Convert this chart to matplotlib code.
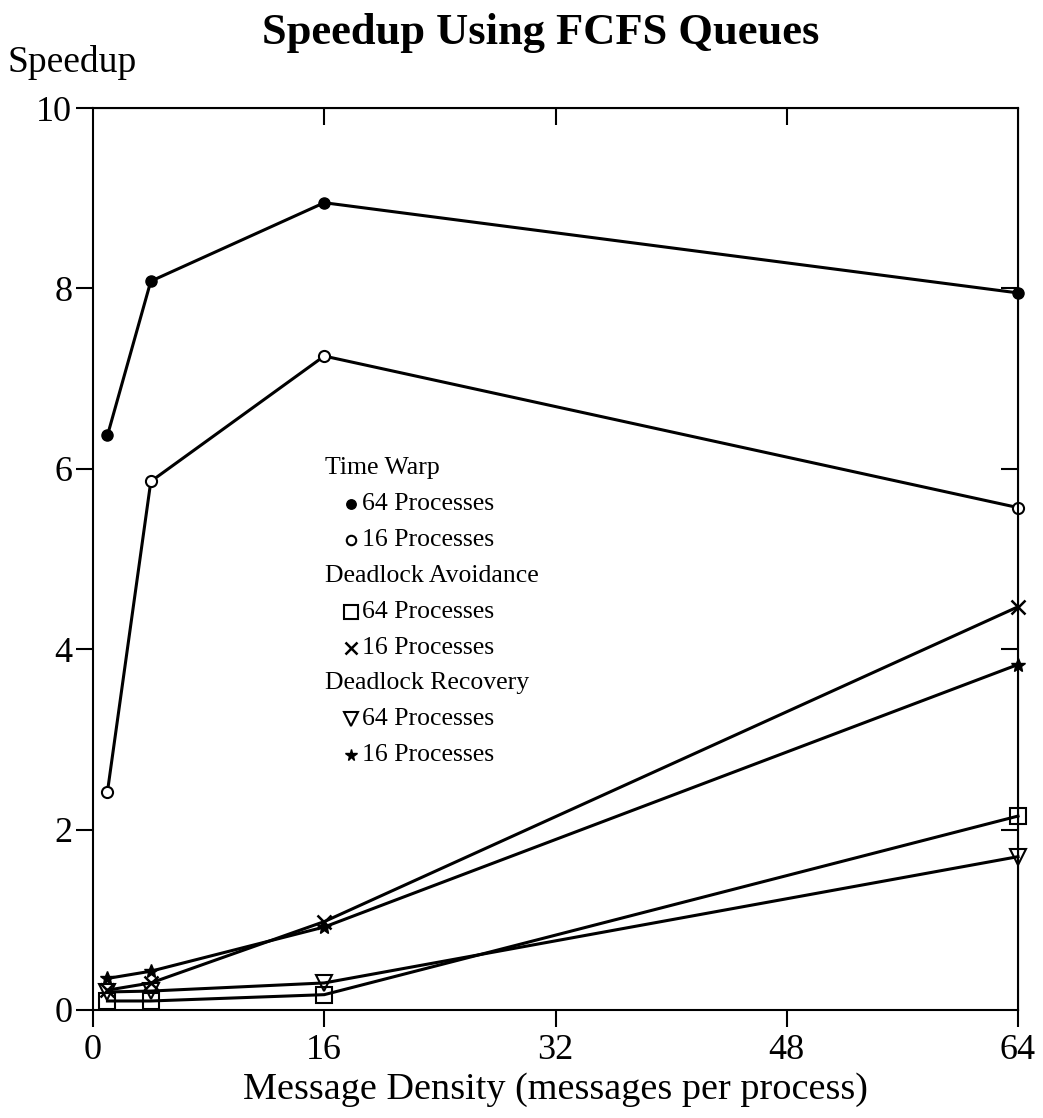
import matplotlib
matplotlib.use('Agg')
import matplotlib.pyplot as plt

plt.rcParams['font.family'] = ['Liberation Serif', 'DejaVu Serif']

density = [1, 4, 16, 64]  # messages per process

tw_64 = [6.37, 8.08, 8.95, 7.95]
tw_16 = [2.42, 5.86, 7.25, 5.57]
da_64 = [0.10, 0.10, 0.17, 2.15]
da_16 = [0.22, 0.30, 0.98, 4.47]
dr_64 = [0.20, 0.21, 0.30, 1.70]
dr_16 = [0.35, 0.43, 0.92, 3.83]

xticks = [0, 16, 32, 48, 64]
yticks = [0, 2, 4, 6, 8, 10]

fig = plt.figure(figsize=(10.43, 11.18), dpi=100)
ax = fig.add_axes([93 / 1043, 1 - 1010 / 1118, 925 / 1043, 902 / 1118])

lw = 2.2
series = [
    (tw_64, dict(marker='o', ms=8, mfc='black')),
    (tw_16, dict(marker='o', ms=8, mfc='white', mew=1.5)),
    (da_64, dict(marker='s', ms=12, mfc='none', mew=1.5)),
    (da_16, dict(marker='x', ms=10, mew=1.8)),
    (dr_64, dict(marker='v', ms=12, mfc='none', mew=1.5)),
    (dr_16, dict(marker='*', ms=10)),
]
for vals, style in series:
    ax.plot(density, vals, color='black', lw=lw, mec='black', clip_on=False, **style)

ax.set_xlim(0, 64)
ax.set_ylim(0, 10)
ax.set_xticks(xticks)
ax.set_yticks(yticks)
ax.tick_params(axis='both', direction='out', length=12, width=1.5, labelsize=26, pad=3)
ax.tick_params(axis='x', pad=5)
for s in ax.spines.values():
    s.set_linewidth(1.5)

# inward ticks on top and right
top = ax.secondary_xaxis('top')
top.set_xticks(xticks[1:-1])
top.tick_params(direction='in', length=12, width=1.5, labeltop=False)
right = ax.secondary_yaxis('right')
right.set_yticks(yticks[1:-1])
right.tick_params(direction='in', length=12, width=1.5, labelright=False)

ax.set_xlabel('Message Density (messages per process)', fontsize=27.5, labelpad=4)
fig.text(8 / 1043, 1 - 63 / 1118, 'Speedup', fontsize=27, va='center', ha='left')
fig.text(541 / 1043, 1 - 33 / 1118, 'Speedup Using FCFS Queues', fontsize=32,
         fontweight='bold', ha='center', va='center')

# hand-made legend
legend_rows = [
    ('Time Warp', None),
    ('64 Processes', series[0][1]),
    ('16 Processes', series[1][1]),
    ('Deadlock Avoidance', None),
    ('64 Processes', series[2][1]),
    ('16 Processes', series[3][1]),
    ('Deadlock Recovery', None),
    ('64 Processes', series[4][1]),
    ('16 Processes', series[5][1]),
]
x0 = (325 - 93) / 925
y0 = (1010 - 468) / 902
dy = 35.9 / 902
for i, (label, style) in enumerate(legend_rows):
    y = y0 - i * dy
    if style is None:
        ax.text(x0, y, label, transform=ax.transAxes, fontsize=18.5, va='center')
    else:
        st = dict(style)
        st['ms'] = st['ms'] * 0.85
        ax.plot([x0 + 26 / 925], [y], transform=ax.transAxes, color='black',
                mec='black', ls='none', **st)
        ax.text(x0 + 37 / 925, y, label, transform=ax.transAxes, fontsize=18.5, va='center')

fig.savefig('out.png', dpi=100)
